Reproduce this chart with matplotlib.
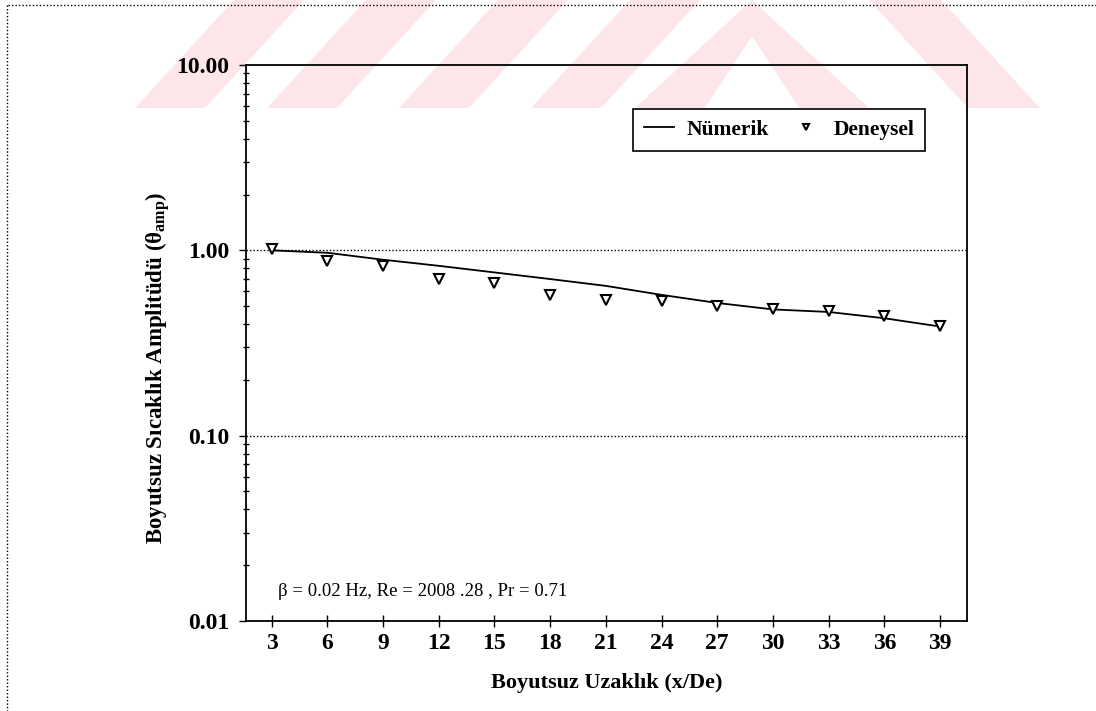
import numpy as np
import matplotlib.pyplot as plt
from matplotlib.patches import Polygon
from matplotlib.lines import Line2D
from matplotlib.ticker import FixedLocator, LogLocator, NullFormatter

plt.rcParams["font.family"] = ["Liberation Serif", "DejaVu Serif"]
plt.rcParams["mathtext.fontset"] = "custom"
plt.rcParams["mathtext.rm"] = "Liberation Serif"
plt.rcParams["mathtext.bf"] = "Liberation Serif:bold"

# boyutsuz uzaklik x/De
x_num = [3, 6, 9, 12, 15, 18, 21, 24, 27, 30, 33, 36, 39]
theta_num = [1.00, 0.97, 0.89, 0.825, 0.76, 0.70, 0.643, 0.575, 0.52, 0.48, 0.465, 0.43, 0.388]

x_exp = [3, 6, 9, 12, 15, 18, 21, 24, 27, 30, 33, 36, 39]
theta_exp = [1.02, 0.88, 0.82, 0.70, 0.67, 0.575, 0.54, 0.535, 0.50, 0.48, 0.47, 0.44, 0.39]

x_ticks = [3, 6, 9, 12, 15, 18, 21, 24, 27, 30, 33, 36, 39]
y_ticks = [0.01, 0.1, 1.0, 10.0]
y_ticklabels = ["0.01", "0.10", "1.00", "10.00"]

W, H = 1096, 711
fig = plt.figure(figsize=(W / 100, H / 100), dpi=100)


def px(x, y):
    return (x / W, 1 - y / H)


def add_shape(pts):
    fig.patches.append(Polygon([px(*p) for p in pts], closed=True,
                               transform=fig.transFigure, facecolor="#fde6ea",
                               edgecolor="none", zorder=-1))


# pale watermark band across the top of the page
band_w, gap = 70, 62
for k in range(4):
    x0 = 135 + k * (band_w + gap)
    add_shape([(x0, 108), (x0 + band_w, 108), (x0 + band_w + 99, 0), (x0 + 99, 0)])
apex_x = 752
add_shape([(apex_x - 117, 108), (apex_x - 47, 108), (apex_x, 36), (apex_x, 0)])
add_shape([(apex_x + 117, 108), (apex_x + 47, 108), (apex_x, 36), (apex_x, 0)])
add_shape([(968, 108), (1040, 108), (941, 0), (869, 0)])

# dotted page frame
fig.add_artist(Line2D([8 / W, 1.0], [1 - 5 / H, 1 - 5 / H], transform=fig.transFigure,
                      color="black", lw=1.0, ls=(0, (1, 1.5))))
fig.add_artist(Line2D([7 / W, 7 / W], [1 - 5 / H, 0.0], transform=fig.transFigure,
                      color="black", lw=1.0, ls=(0, (1, 1.5))))

ax = fig.add_axes([246 / W, 1 - 621 / H, (967 - 246) / W, (621 - 65) / H])
ax.patch.set_alpha(0)

ax.plot(x_num, theta_num, color="black", lw=1.3, label="Nümerik", zorder=3)
ax.plot(x_exp, theta_exp, ls="none", marker="v", ms=6.5, mfc="white", mec="black",
        mew=1.5, label="Deneysel", zorder=4)

ax.set_yscale("log")
ax.set_xlim(1.62, 40.45)
ax.set_ylim(0.01, 10)

for yv in (0.1, 1.0):
    ax.axhline(yv, color="black", lw=1.0, ls=(0, (1, 1.5)), zorder=1)

ax.xaxis.set_major_locator(FixedLocator(x_ticks))
ax.set_xticklabels([str(v) for v in x_ticks])
ax.yaxis.set_major_locator(FixedLocator(y_ticks))
ax.set_yticklabels(y_ticklabels)
ax.yaxis.set_minor_locator(LogLocator(base=10, subs=np.arange(2, 10)))
ax.yaxis.set_minor_formatter(NullFormatter())

ax.tick_params(axis="x", which="major", direction="inout", length=9, width=1.0,
               pad=4, labelsize=17)
ax.tick_params(axis="y", which="major", direction="out", length=5, width=1.0,
               pad=7, labelsize=17)
ax.tick_params(axis="y", which="minor", direction="inout", length=5, width=1.0)
for lab in ax.get_xticklabels() + ax.get_yticklabels():
    lab.set_fontweight("bold")

for sp in ax.spines.values():
    sp.set_linewidth(1.3)

ax.set_xlabel("Boyutsuz Uzaklık (x/De)", fontsize=16, fontweight="bold", labelpad=14)
ax.set_ylabel("Boyutsuz Sıcaklık Amplitüdü (θ$_{\\mathbf{amp}}$)", fontsize=16.5,
              fontweight="bold")
ax.yaxis.set_label_coords(-0.101, 0.455)

ax.text(0.044, 0.053, "β = 0.02 Hz, Re = 2008 .28 , Pr = 0.71", transform=ax.transAxes,
        fontsize=13.5, va="center", ha="left")

leg = ax.legend(loc="upper right", bbox_to_anchor=(0.942, 0.921), ncol=2,
                frameon=True, fancybox=False, framealpha=1, edgecolor="black",
                prop={"weight": "bold", "size": 15.5}, handlelength=1.4,
                columnspacing=1.0, handletextpad=0.6, markerscale=0.7,
                borderpad=0.5, borderaxespad=0)
leg.get_frame().set_linewidth(1.2)

fig.savefig("out.png", dpi=100)
